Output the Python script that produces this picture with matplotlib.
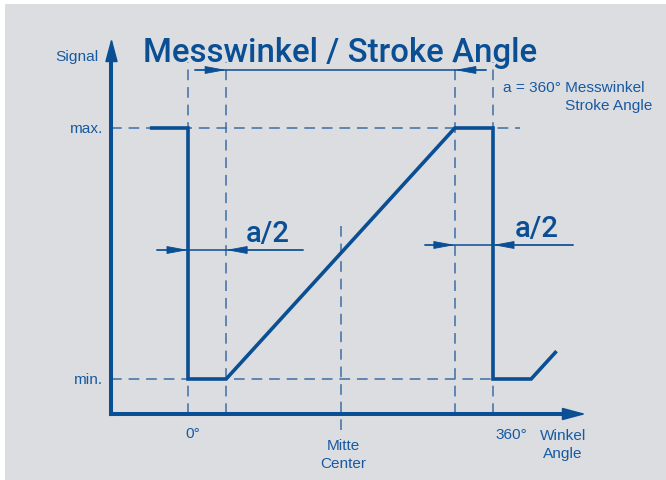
import matplotlib
matplotlib.use("Agg")
import matplotlib.pyplot as plt
from matplotlib import font_manager
from matplotlib.patches import Rectangle

# ---------------- data ----------------
trace_angle = [-45, 0, 0, 45, 315, 360, 360, 405, 435]      # degrees
trace_signal = [1, 1, 0, 0, 1, 1, 0, 0, 0.111]              # 0 = min, 1 = max
marker_angles = [0, 45, 315, 360]                           # dashed guide lines
center_angle = 180
half_stroke = 45                                            # a/2
signal_levels = [0, 1]
level_labels = ["min.", "max."]
title_text = "Messwinkel / Stroke Angle"
note_lines = ["a = 360° Messwinkel", "Stroke Angle"]

# ---------------- style ----------------
W, H, DPI = 666, 481, 100
BG = "#dcdde0"
BLUE = "#0a4e94"
TXT = "#175aa2"
DASH = "#3d6ea6"

TFONT = "Roboto"
SFONT = "Liberation Sans"

fig = plt.figure(figsize=(W / DPI, H / DPI), dpi=DPI, facecolor="white")
ax = fig.add_axes([0, 0, 1, 1])
ax.set_facecolor("none")
ax.axis("off")
ax.add_patch(Rectangle((5 / W, 0), 1 - 5 / W, 1 - 5 / H, transform=ax.transAxes,
                       facecolor=BG, edgecolor="none", zorder=-10))

# pixel <-> data mapping: 0 deg at px 188, 360 deg at px 493; min at py 380, max at py 129
def dx(px):
    return (px - 188) * 360.0 / 305.0

def dy(py):
    return (380 - py) / 251.0

ax.set_xlim(dx(0), dx(W))
ax.set_ylim(dy(H), dy(0))

x_axis_y = dy(415)
y_axis_x = dx(111.5)

# axes with arrows
def arrow(tail, tip, color, lw, hl, hw):
    ax.annotate("", xy=tip, xytext=tail,
                arrowprops=dict(arrowstyle=f"-|>,head_length={hl},head_width={hw}",
                                color=color, lw=lw, shrinkA=0, shrinkB=0,
                                mutation_scale=1, joinstyle="miter", capstyle="butt"),
                zorder=5)

ax.plot([y_axis_x, y_axis_x], [x_axis_y, dy(55)], color=BLUE, lw=2.9, solid_capstyle="projecting", zorder=5)
ax.plot([y_axis_x, dx(570)], [x_axis_y, x_axis_y], color=BLUE, lw=2.9, solid_capstyle="projecting", zorder=5)
arrow((y_axis_x, dy(70)), (y_axis_x, dy(39)), BLUE, 1.0, 15, 4.0)
arrow((dx(550), x_axis_y), (dx(586), x_axis_y), BLUE, 1.0, 15, 4.0)

# dashed guides
dash = dict(color=DASH, lw=1.1, dashes=(7, 4.5), zorder=2)
for a in marker_angles:
    ax.plot([a, a], [x_axis_y, dy(63)], **dash)
ax.plot([center_angle, center_angle], [dy(227), dy(436)], **dash)
ax.plot([y_axis_x, dx(520)], [signal_levels[1]] * 2, **dash)
ax.plot([y_axis_x, marker_angles[-1]], [signal_levels[0]] * 2, **dash)

# signal trace
ax.plot(trace_angle, trace_signal, color=BLUE, lw=2.6, solid_joinstyle="miter",
        solid_capstyle="butt", zorder=4)

# dimension lines
dim_lw = 1.1
def dimension(y, left, right, l_tip, r_tip):
    ax.plot([left, right], [y, y], color=BLUE, lw=dim_lw, zorder=3)
    arrow((left, y), (l_tip, y), BLUE, 0.6, 13.5, 2.5)
    arrow((right, y), (r_tip, y), BLUE, 0.6, 13.5, 2.5)

dimension(dy(71), dx(195), dx(486), marker_angles[1], marker_angles[2])
dimension(dy(251), dx(157), dx(303), marker_angles[0], marker_angles[0] + half_stroke)
dimension(dy(246), dx(425), dx(573), marker_angles[3] - half_stroke, marker_angles[3])

# title, fitted to width
t = ax.text(dx(340), dy(62), title_text, ha="center", va="baseline", color=BLUE,
            fontsize=24, fontweight="medium", family=[TFONT, "DejaVu Sans"])
fig.canvas.draw()
w = t.get_window_extent().width
t.set_fontsize(24 * 394.0 / w)

small = dict(color=TXT, fontsize=10.3, family=[SFONT, "DejaVu Sans"])
texts = []
texts.append(ax.text(dx(99), dy(61), "Signal", ha="right", va="baseline", **small))
for lvl, lab in zip(signal_levels, level_labels):
    texts.append(ax.text(dx(103), lvl, lab, ha="right", va="center", **small))
texts.append(ax.text(marker_angles[0] + dx(193) - dx(188), dy(438), "0°", ha="center", va="baseline", **small))
texts.append(ax.text(marker_angles[3] + dx(511) - dx(493), dy(439), "360°", ha="center", va="baseline", **small))
texts.append(ax.text(dx(343), dy(450), "Mitte", ha="center", va="baseline", **small))
texts.append(ax.text(dx(343), dy(468), "Center", ha="center", va="baseline", **small))
texts.append(ax.text(dx(563), dy(440), "Winkel", ha="center", va="baseline", **small))
texts.append(ax.text(dx(563), dy(458), "Angle", ha="center", va="baseline", **small))
note = ax.text(dx(503), dy(92), note_lines[0], ha="left", va="baseline", **small)
texts.append(note)
texts.append(ax.text(dx(565), dy(110), note_lines[1], ha="left", va="baseline", **small))
fig.canvas.draw()
w = note.get_window_extent().width
for tt in texts:
    tt.set_fontsize(10.3 * 142.0 / w)

big = dict(color=BLUE, fontsize=20, fontweight="medium", family=[TFONT, "DejaVu Sans"])
t1 = ax.text(dx(246), dy(242), "a/2", ha="left", va="baseline", **big)
t2 = ax.text(dx(515), dy(237), "a/2", ha="left", va="baseline", **big)
fig.canvas.draw()
w = t1.get_window_extent().width
for tt in (t1, t2):
    tt.set_fontsize(20 * 44.0 / w)

fig.savefig("out.png", dpi=DPI, facecolor="white")
